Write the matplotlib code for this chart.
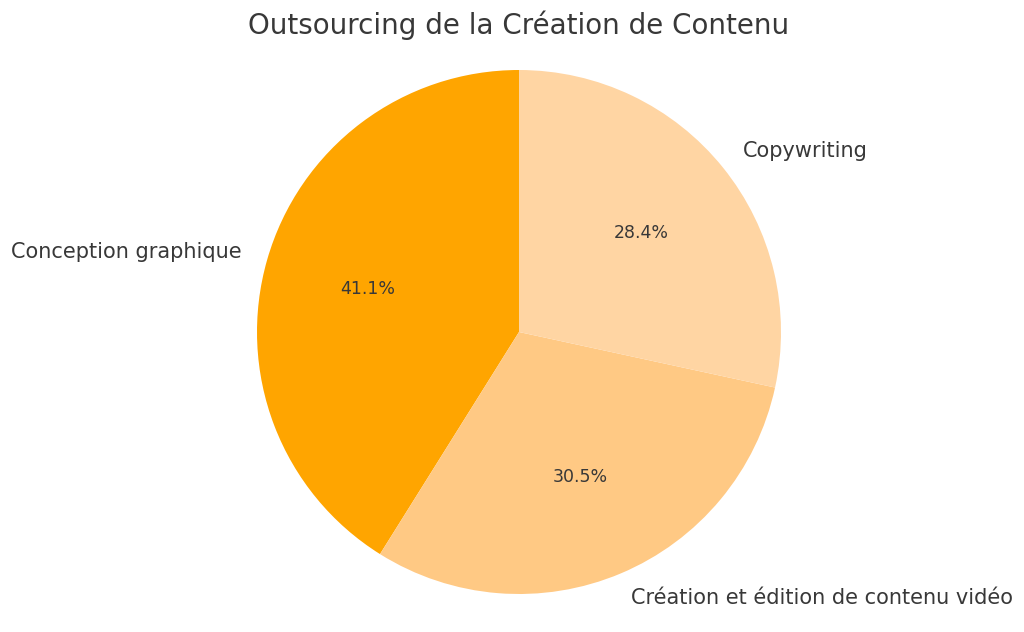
import matplotlib
matplotlib.use("Agg")
import matplotlib.pyplot as plt

labels = ["Conception graphique", "Création et édition de contenu vidéo", "Copywriting"]
values = [41.1, 30.5, 28.4]
colors = ["#FFA500", "#FFC984", "#FFD5A3"]
title = "Outsourcing de la Création de Contenu"

plt.rcParams["font.family"] = "DejaVu Sans"
text_color = "#383838"

fig = plt.figure(figsize=(10.24, 6.32), dpi=100)
ax = fig.add_axes([0, 0, 1, 1])

wedges, texts, autotexts = ax.pie(
    values,
    labels=labels,
    colors=colors,
    autopct="%1.1f%%",
    startangle=90,
    textprops={"color": text_color, "fontsize": 15},
)
for t in autotexts:
    t.set_fontsize(12.5)

# place the pie: centre at (519, 332) px from top, radius 262 px
r = 262.0
ax.set_xlim(-519 / r, (1024 - 519) / r)
ax.set_ylim(-(632 - 332) / r, 332 / r)
ax.set_aspect("auto")
ax.axis("off")

fig.text(519 / 1024, 1 - 25 / 632, title, ha="center", va="center",
         fontsize=20, color=text_color)

fig.savefig("out.png", dpi=100)
